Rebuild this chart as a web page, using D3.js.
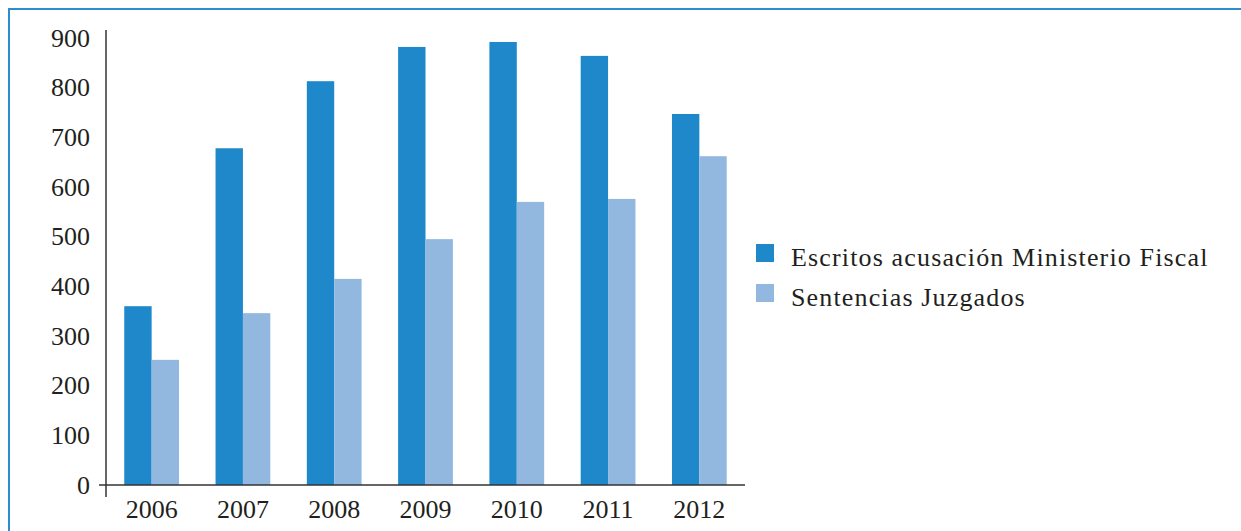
<!DOCTYPE html>
<html>
<head>
<meta charset="utf-8">
<script src="https://cdn.jsdelivr.net/npm/d3@7"></script>
<style>
  html, body { margin: 0; padding: 0; background: #fff; }
  svg { display: block; }
  text { font-family: "Liberation Serif", "DejaVu Serif", serif; fill: #231f20; }
</style>
</head>
<body>
<svg id="chart" width="1241" height="531"></svg>
<script>
const years = ["2006", "2007", "2008", "2009", "2010", "2011", "2012"];
const escritos = [360, 678, 813, 882, 892, 864, 747];
const sentencias = [252, 346, 415, 495, 570, 576, 662];
const seriesNames = ["Escritos acusación Ministerio Fiscal", "Sentencias Juzgados"];
const seriesColors = ["#1f88cb", "#93b8e0"];
const yTicks = [0, 100, 200, 300, 400, 500, 600, 700, 800, 900];

const svg = d3.select("#chart");

// frame
svg.append("rect")
  .attr("x", 9).attr("y", 9)
  .attr("width", 1260).attr("height", 560)
  .attr("fill", "none").attr("stroke", "#2e8bcc").attr("stroke-width", 2);

const x0 = 106, x1 = 745, yBase = 485, yTop = 38;
const x = d3.scaleBand().domain(years).range([x0, x1]).paddingInner(0.4).paddingOuter(0.2);
const xs = d3.scaleBand().domain([0, 1]).range([0, x.bandwidth()]);
const y = d3.scaleLinear().domain([0, 900]).range([yBase, yTop]);

const data = years.map((yr, i) => ({ year: yr, values: [escritos[i], sentencias[i]] }));

const g = svg.append("g");
g.selectAll("g.grp").data(data).join("g")
  .attr("class", "grp")
  .attr("transform", d => `translate(${x(d.year)},0)`)
  .selectAll("rect").data(d => d.values.map((v, k) => ({ v, k }))).join("rect")
  .attr("x", d => xs(d.k))
  .attr("width", xs.bandwidth())
  .attr("y", d => y(d.v))
  .attr("height", d => yBase - y(d.v))
  .attr("fill", d => seriesColors[d.k]);

// y axis
const yAxis = d3.axisLeft(y).tickValues(yTicks).tickSize(0).tickPadding(16);
const yg = svg.append("g").attr("transform", `translate(${x0},0)`).call(yAxis);
yg.select(".domain").remove();
yg.selectAll("text").style("font-size", "26px").style("font-family", "'Liberation Serif', serif").attr("fill", "#231f20");
svg.append("line").attr("x1", x0).attr("x2", x0).attr("y1", 30).attr("y2", 497)
  .attr("stroke", "#333").attr("stroke-width", 1.5);

// x axis
const xAxis = d3.axisBottom(x).tickSize(0).tickPadding(15);
const xg = svg.append("g").attr("transform", `translate(0,${yBase})`).call(xAxis);
xg.select(".domain").remove();
xg.selectAll("text").style("font-size", "26px").style("font-family", "'Liberation Serif', serif").attr("fill", "#231f20");
svg.append("line").attr("x1", 99).attr("x2", x1).attr("y1", yBase).attr("y2", yBase)
  .attr("stroke", "#333").attr("stroke-width", 1.5);

// legend
const lg = svg.append("g").attr("transform", "translate(756,244)");
seriesNames.forEach((name, i) => {
  const row = lg.append("g").attr("transform", `translate(0,${i * 40})`);
  row.append("rect").attr("x", 0).attr("y", 0).attr("width", 18).attr("height", 18).attr("fill", seriesColors[i]);
  row.append("text").attr("x", 35).attr("y", 22)
    .style("font-size", "26px").style("letter-spacing", "1.15px").text(name);
});
</script>
</body>
</html>
